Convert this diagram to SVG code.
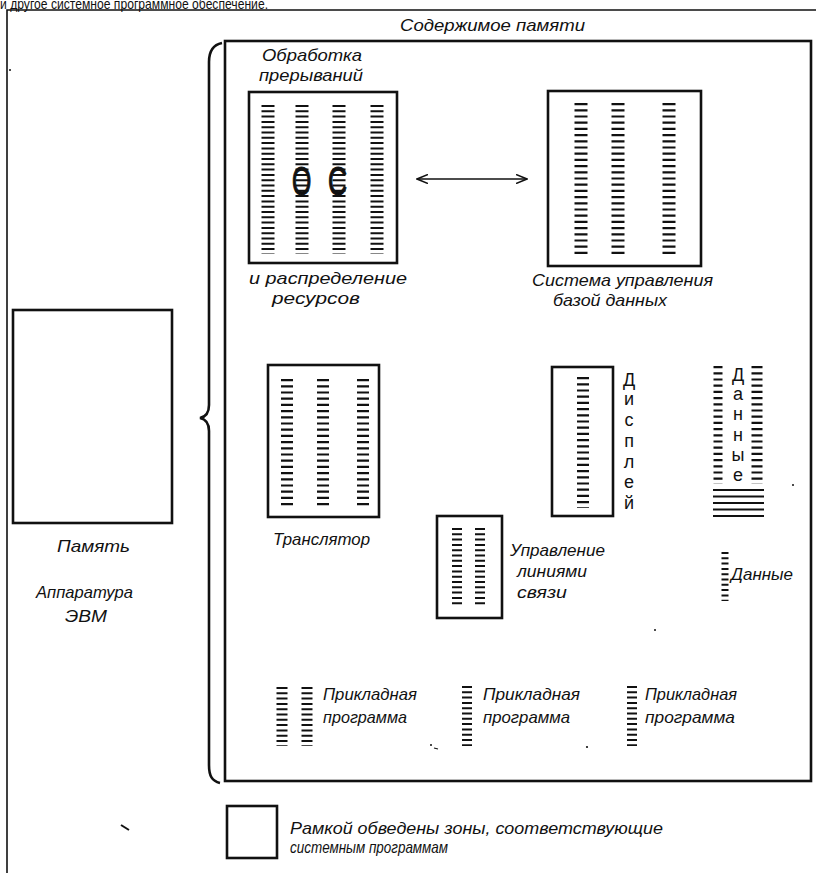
<svg xmlns="http://www.w3.org/2000/svg" width="816" height="873" viewBox="0 0 816 873">
<style>
.t{font-family:"Liberation Sans",Arial,sans-serif;font-style:italic;font-size:17px;fill:#111}
.u{font-family:"Liberation Sans",Arial,sans-serif;font-size:18px;fill:#111}
.box{fill:none;stroke:#111;stroke-width:2.6}
.ln{fill:none;stroke:#111;stroke-width:1.6}
.c{stroke:#111;stroke-dasharray:2 3.3;fill:none}
.c6{stroke:#111;stroke-dasharray:2.2 4;fill:none}
</style>
<defs>
<marker id="ah" viewBox="0 0 12 10" refX="11" refY="5" markerWidth="12" markerHeight="10" markerUnits="userSpaceOnUse" orient="auto-start-reverse">
<path d="M0,0.5 L11,5 L0,9.5" fill="none" stroke="#111" stroke-width="1.6"/>
</marker>
</defs>
<rect width="816" height="873" fill="#fff"/>
<text x="0" y="9" font-family="Liberation Sans,Arial,sans-serif" font-size="15" fill="#111" textLength="268" lengthAdjust="spacingAndGlyphs">и другое системное программное обеспечение.</text>
<g id="page-frame">
<path class="ln" d="M7,873 L7,10 L816,10"/>
</g>
<g id="memory-content">
<rect class="box" x="225" y="41" width="586" height="740"/>
<text class="t" x="400" y="31" textLength="185" lengthAdjust="spacingAndGlyphs">Содержимое памяти</text>
<path d="M222,43 C212,45 209,52 209,62 L209,405 C209,414 205,417 200,418 C205,419 209,422 209,431 L209,765 C209,776 212,781 220,783" fill="none" stroke="#111" stroke-width="2.6"/>
</g>
<g id="hardware">
<rect class="box" x="13" y="310" width="159" height="213"/>
<text class="t" x="57" y="552" textLength="73" lengthAdjust="spacingAndGlyphs">Память</text>
<text class="t" x="36" y="598" textLength="97" lengthAdjust="spacingAndGlyphs">Аппаратура</text>
<text class="t" x="65" y="622" textLength="42" lengthAdjust="spacingAndGlyphs">ЭВМ</text>
</g>
<g id="os">
<text class="t" x="262" y="61" textLength="100" lengthAdjust="spacingAndGlyphs">Обработка</text>
<text class="t" x="259" y="81" textLength="104" lengthAdjust="spacingAndGlyphs">прерываний</text>
<rect class="box" x="249" y="92" width="148" height="171"/>
<line class="c" x1="268" y1="105" x2="268" y2="254" stroke-width="13"/>
<line class="c" x1="302" y1="105" x2="302" y2="254" stroke-width="13"/>
<line class="c" x1="339" y1="105" x2="339" y2="254" stroke-width="13"/>
<line class="c" x1="377" y1="105" x2="377" y2="254" stroke-width="13"/>
<text transform="translate(292,195) scale(0.62,1)" font-family="Liberation Sans,Arial,sans-serif" font-size="40" fill="#111" stroke="#111" stroke-width="1.2">О</text>
<text transform="translate(328,195) scale(0.66,1)" font-family="Liberation Sans,Arial,sans-serif" font-size="40" fill="#111" stroke="#111" stroke-width="1.2">С</text>
<text class="t" x="249" y="284" textLength="158" lengthAdjust="spacingAndGlyphs">и распределение</text>
<text class="t" x="272" y="304" textLength="88" lengthAdjust="spacingAndGlyphs">ресурсов</text>
</g>
<g id="dbms">
<rect class="box" x="548" y="91" width="153" height="175"/>
<line class="c6" x1="581" y1="103" x2="581" y2="254" stroke-width="13"/>
<line class="c6" x1="618" y1="103" x2="618" y2="254" stroke-width="13"/>
<line class="c6" x1="669" y1="103" x2="669" y2="254" stroke-width="13"/>
<text class="t" x="532" y="286" textLength="181" lengthAdjust="spacingAndGlyphs">Система управления</text>
<text class="t" x="553" y="306" textLength="114" lengthAdjust="spacingAndGlyphs">базой данных</text>
</g>
<g id="translator">
<rect class="box" x="268" y="365" width="111" height="152"/>
<line class="c6" x1="287" y1="379" x2="287" y2="506" stroke-width="12"/>
<line class="c6" x1="323" y1="379" x2="323" y2="506" stroke-width="12"/>
<line class="c6" x1="363" y1="379" x2="363" y2="506" stroke-width="12"/>
<text class="t" x="273" y="545" textLength="97" lengthAdjust="spacingAndGlyphs">Транслятор</text>
</g>
<g id="display">
<rect class="box" x="552" y="367" width="61" height="149"/>
<line class="c6" x1="583" y1="377" x2="583" y2="508" stroke-width="12" stroke-dasharray="2 4"/>
<text class="u" x="629" y="386" text-anchor="middle">Д</text>
<text class="u" x="629" y="405" text-anchor="middle">и</text>
<text class="u" x="629" y="426" text-anchor="middle">с</text>
<text class="u" x="629" y="447" text-anchor="middle">п</text>
<text class="u" x="629" y="468" text-anchor="middle">л</text>
<text class="u" x="629" y="488" text-anchor="middle">е</text>
<text class="u" x="629" y="509" text-anchor="middle">й</text>
</g>
<g id="data-block">
<line class="c6" x1="718" y1="366" x2="718" y2="484" stroke-width="9"/>
<line class="c6" x1="757" y1="366" x2="757" y2="484" stroke-width="11"/>
<g stroke="#111" stroke-width="2">
<line x1="713" y1="490" x2="764" y2="490"/>
<line x1="713" y1="496.5" x2="764" y2="496.5"/>
<line x1="713" y1="503" x2="764" y2="503"/>
<line x1="713" y1="509.5" x2="764" y2="509.5"/>
<line x1="713" y1="516" x2="764" y2="516"/>
</g>
<text class="u" x="738" y="381" text-anchor="middle" font-size="17">Д</text>
<text class="u" x="738" y="400" text-anchor="middle" font-size="17">а</text>
<text class="u" x="738" y="420" text-anchor="middle" font-size="17">н</text>
<text class="u" x="738" y="441" text-anchor="middle" font-size="17">н</text>
<text class="u" x="738" y="461" text-anchor="middle" font-size="17">ы</text>
<text class="u" x="738" y="481" text-anchor="middle" font-size="17">е</text>
</g>
<g id="comm">
<rect class="box" x="437" y="516" width="65" height="102"/>
<line class="c" x1="457" y1="528" x2="457" y2="606" stroke-width="10" stroke-dasharray="2 3.6"/>
<line class="c" x1="480" y1="528" x2="480" y2="606" stroke-width="10" stroke-dasharray="2 3.6"/>
<text class="t" x="510" y="556" textLength="95" lengthAdjust="spacingAndGlyphs">Управление</text>
<text class="t" x="517" y="577" textLength="70" lengthAdjust="spacingAndGlyphs">линиями</text>
<text class="t" x="517" y="598" textLength="50" lengthAdjust="spacingAndGlyphs">связи</text>
</g>
<g id="data-small">
<line class="c" x1="725" y1="552" x2="725" y2="601" stroke-width="7" stroke-dasharray="2 3"/>
<text class="t" x="731" y="580" textLength="62" lengthAdjust="spacingAndGlyphs">Данные</text>
</g>
<g id="app1">
<line class="c" x1="282" y1="687" x2="282" y2="746" stroke-width="11" stroke-dasharray="2 3"/>
<line class="c" x1="307" y1="687" x2="307" y2="746" stroke-width="11" stroke-dasharray="2 3"/>
<text class="t" x="323" y="700" textLength="94" lengthAdjust="spacingAndGlyphs">Прикладная</text>
<text class="t" x="323" y="723" textLength="84" lengthAdjust="spacingAndGlyphs">программа</text>
</g>
<g id="app2">
<line class="c" x1="467" y1="686" x2="467" y2="746" stroke-width="10" stroke-dasharray="2 3"/>
<text class="t" x="483" y="700" textLength="97" lengthAdjust="spacingAndGlyphs">Прикладная</text>
<text class="t" x="483" y="723" textLength="87" lengthAdjust="spacingAndGlyphs">программа</text>
</g>
<g id="app3">
<line class="c" x1="632" y1="686" x2="632" y2="746" stroke-width="10" stroke-dasharray="2 3"/>
<text class="t" x="645" y="700" textLength="92" lengthAdjust="spacingAndGlyphs">Прикладная</text>
<text class="t" x="645" y="723" textLength="90" lengthAdjust="spacingAndGlyphs">программа</text>
</g>
<g id="legend">
<rect class="box" x="227" y="806" width="50" height="52"/>
<text class="t" x="290" y="834" font-size="16" textLength="373" lengthAdjust="spacingAndGlyphs">Рамкой обведены зоны, соответствующие</text>
<text class="t" x="290" y="853" font-size="16" textLength="158" lengthAdjust="spacingAndGlyphs">системным программам</text>
</g>
<g id="connectors">
<line x1="417" y1="179" x2="527" y2="179" stroke="#111" stroke-width="1.6" marker-start="url(#ah)" marker-end="url(#ah)"/>
</g>
<g id="specks" fill="#111">
<circle cx="10" cy="70" r="1"/>
<path d="M121,825 L129,830" stroke="#111" stroke-width="2"/>
<circle cx="431" cy="745" r="1"/>
<path d="M434,748 L438,749" stroke="#111" stroke-width="1.2"/>
<circle cx="587" cy="747" r="1.1"/>
<circle cx="655" cy="630" r="1"/>
<circle cx="793" cy="485" r="1"/>
</g>
</svg>
